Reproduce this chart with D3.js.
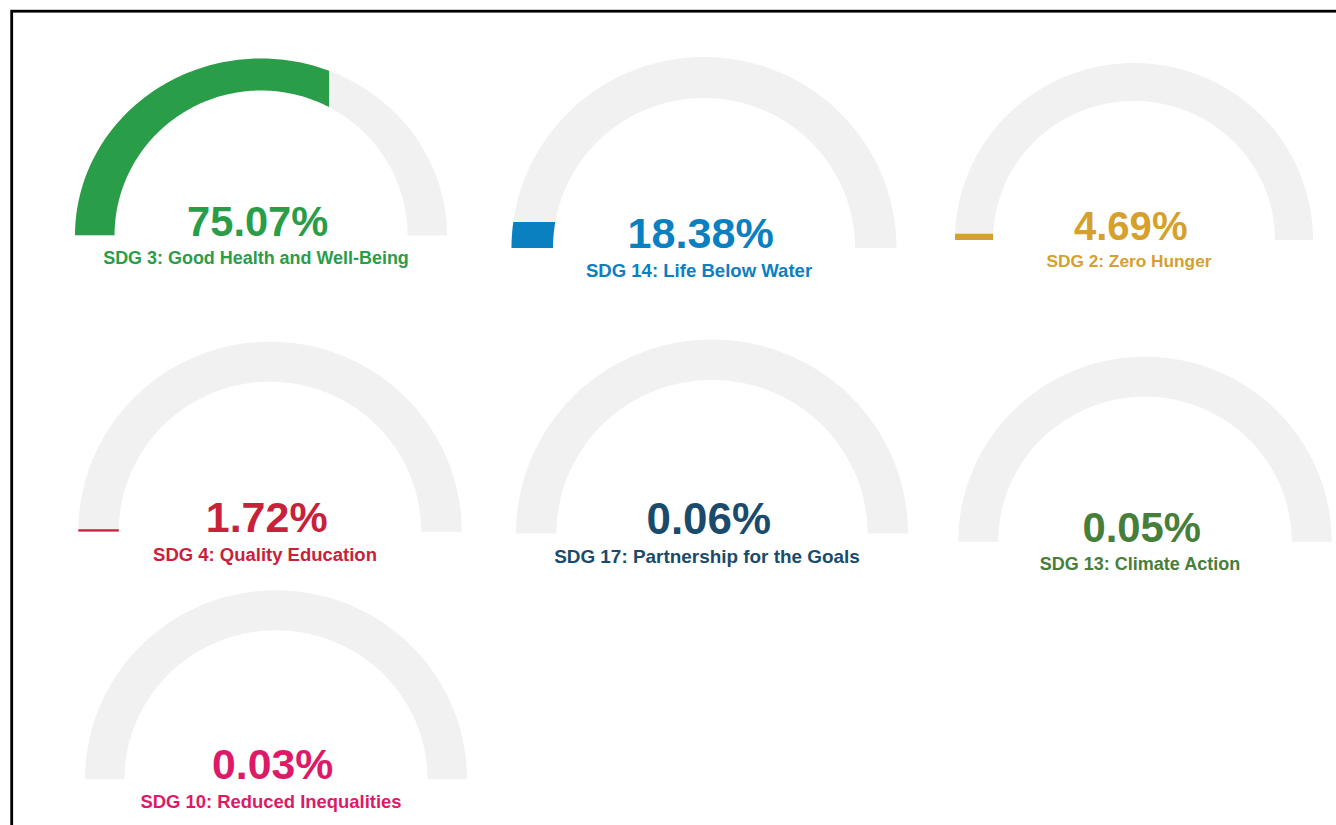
<!DOCTYPE html>
<html>
<head>
<meta charset="utf-8">
<script src="https://cdn.jsdelivr.net/npm/d3@7"></script>
<style>
  html, body { margin: 0; padding: 0; background: #ffffff; overflow: hidden; }
  svg { display: block; }
</style>
</head>
<body>
<svg id="chart" width="1336" height="825"></svg>
<script>
// ---- data ----
const labels = [
  "SDG 3: Good Health and Well-Being",
  "SDG 14: Life Below Water",
  "SDG 2: Zero Hunger",
  "SDG 4: Quality Education",
  "SDG 17: Partnership for the Goals",
  "SDG 13: Climate Action",
  "SDG 10: Reduced Inequalities"
];
const values = [75.07, 18.38, 4.69, 1.72, 0.06, 0.05, 0.03];
const colors = ["#2a9d48", "#0a80c0", "#d6a02c", "#c8223a", "#1a4b6c", "#467e3a", "#dd1a67"];

// ---- layout (positions/sizes per gauge) ----
const centersX = [261, 704, 1134, 270, 712, 1145, 276];
const baseY    = [235.5, 248, 240, 531.7, 533.5, 541.7, 779.3];
const radiiX   = [186, 192.5, 179, 191.7, 196, 186.7, 191];
const radiiY   = [177, 191, 177, 190, 194, 185, 189];
const bandX    = [39.5, 41.5, 38, 40.5, 40.5, 40, 39.5];
const bandY    = [32, 41, 38, 40, 40.5, 40, 40];

const trackColor = "#f1f1f1";
const fontFamily = "'Liberation Sans', Arial, Helvetica, sans-serif";

const svg = d3.select("#chart");
const defs = svg.append("defs");

// value -> fill extent scales (fraction of gauge height / width)
const fillHeight = d3.scaleLinear().domain([0, 20, 100]).range([0, 0.148, 2]).clamp(true);
const fillWidth  = d3.scaleLinear().domain([0, 100]).range([0.12, 0.87]).clamp(true);

const angle = d3.scaleLinear().domain([0, 1]).range([0, Math.PI]);
const steps = d3.range(0, 1.0001, 1 / 180);

function bandPath(cx, by, rx, ry, bx, bh) {
  const outer = steps.map(t => [cx - rx * Math.cos(angle(t)), by - ry * Math.sin(angle(t))]);
  const inner = steps.slice().reverse().map(t => [cx - (rx - bx) * Math.cos(angle(t)), by - (ry - bh) * Math.sin(angle(t))]);
  return d3.line()(outer.concat(inner)) + "Z";
}

const gauges = values.map((v, i) => ({
  value: v, label: labels[i], color: colors[i],
  cx: centersX[i], by: baseY[i], rx: radiiX[i], ry: radiiY[i], bx: bandX[i], bh: bandY[i], i
}));

const fmt = d3.format(".2f");

const g = svg.selectAll("g.gauge").data(gauges).join("g").attr("class", "gauge");

// clip paths for value fill
g.each(function(d) {
  const h = fillHeight(d.value) * d.ry;
  const w = fillWidth(d.value) * 2 * d.rx;
  defs.append("clipPath").attr("id", "clip" + d.i)
    .append("rect")
    .attr("x", d.cx - d.rx - 2)
    .attr("y", d.by - h)
    .attr("width", w + 2)
    .attr("height", h);
});

// track
g.append("path")
  .attr("d", d => bandPath(d.cx, d.by, d.rx, d.ry, d.bx, d.bh))
  .attr("fill", trackColor);

// value fill
g.append("path")
  .attr("d", d => bandPath(d.cx, d.by, d.rx, d.ry, d.bx, d.bh))
  .attr("fill", d => d.color)
  .attr("clip-path", d => "url(#clip" + d.i + ")");

// percentage text
g.append("text")
  .attr("x", d => d.cx - 3.3)
  .attr("y", d => d.by)
  .attr("text-anchor", "middle")
  .attr("font-family", fontFamily)
  .attr("font-weight", "bold")
  .attr("font-size", d => 0.224 * d.rx)
  .attr("fill", d => d.color)
  .text(d => fmt(d.value) + "%");

// label text
g.append("text")
  .attr("x", d => d.cx - 5)
  .attr("y", d => d.by + 0.152 * d.rx)
  .attr("text-anchor", "middle")
  .attr("font-family", fontFamily)
  .attr("font-weight", "bold")
  .attr("font-size", d => 0.0965 * d.rx)
  .attr("fill", d => d.color)
  .text(d => d.label);

// frame
svg.append("rect")
  .attr("x", 11.7).attr("y", 11.2)
  .attr("width", 1400).attr("height", 900)
  .attr("fill", "none")
  .attr("stroke", "#000")
  .attr("stroke-width", 2.8);
</script>
</body>
</html>
